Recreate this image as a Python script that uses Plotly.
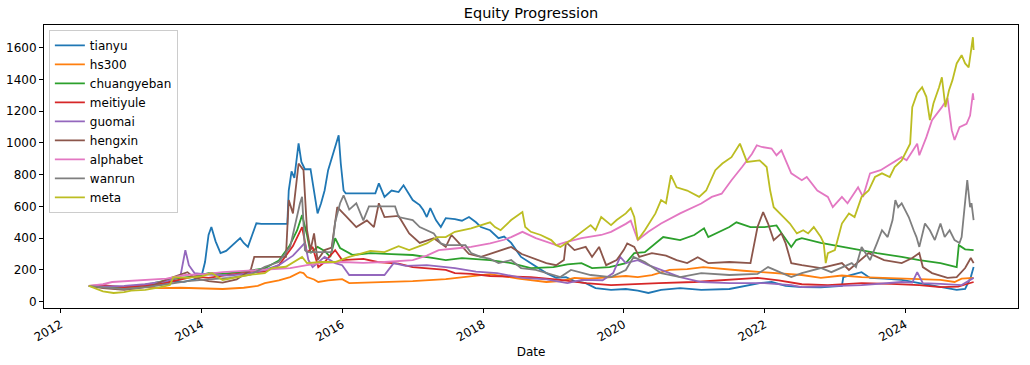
import pandas as pd
import plotly.graph_objects as go

# (decimal year, value) pairs
tianyu = [(2012.40,100),(2012.5,95),(2012.6,105),(2012.75,90),(2012.9,80),(2013.0,85),(2013.15,95),(2013.3,100),(2013.45,115),(2013.6,130),(2013.75,125),(2013.9,140),(2014.0,160),(2014.05,250),(2014.1,420),(2014.14,470),(2014.2,380),(2014.27,306),(2014.35,320),(2014.45,360),(2014.55,400),(2014.6,370),(2014.66,345),(2014.72,420),(2014.78,494),(2014.85,490),(2015.22,490),(2015.24,700),(2015.28,820),(2015.32,780),(2015.38,997),(2015.42,880),(2015.47,834),(2015.55,834),(2015.6,700),(2015.65,556),(2015.7,620),(2015.75,700),(2015.8,828),(2015.87,933),(2015.95,1048),(2015.98,870),(2016.02,700),(2016.05,682),(2016.47,682),(2016.52,745),(2016.6,660),(2016.7,700),(2016.8,690),(2016.87,733),(2016.95,680),(2017.0,640),(2017.1,608),(2017.15,577),(2017.2,533),(2017.25,589),(2017.33,514),(2017.4,470),(2017.47,526),(2017.6,520),(2017.7,510),(2017.8,533),(2017.9,500),(2017.97,470),(2018.1,450),(2018.22,400),(2018.3,410),(2018.4,370),(2018.54,282),(2018.68,243),(2018.8,210),(2018.9,180),(2019.04,150),(2019.18,155),(2019.3,130),(2019.46,117),(2019.6,86),(2019.82,74),(2020.03,80),(2020.2,70),(2020.35,55),(2020.53,74),(2020.8,86),(2021.1,74),(2021.5,80),(2021.93,117),(2022.1,124),(2022.3,100),(2022.53,92),(2022.8,90),(2023.1,100),(2023.12,155),(2023.38,186),(2023.5,150),(2023.7,145),(2023.95,137),(2024.2,117),(2024.52,92),(2024.73,74),(2024.85,80),(2024.93,155),(2024.97,218)]

hs300 = [(2012.40,100),(2012.6,95),(2012.9,85),(2013.1,95),(2013.4,85),(2013.7,88),(2014.0,82),(2014.3,80),(2014.6,88),(2014.8,100),(2014.9,117),(2015.1,135),(2015.26,155),(2015.4,186),(2015.45,180),(2015.5,155),(2015.6,140),(2015.66,124),(2015.8,135),(2016.0,142),(2016.1,117),(2016.3,120),(2016.6,125),(2017.0,130),(2017.47,142),(2017.83,162),(2018.1,174),(2018.3,160),(2018.5,145),(2018.9,124),(2019.1,130),(2019.3,150),(2019.5,145),(2019.68,150),(2020.03,162),(2020.2,155),(2020.4,168),(2020.65,200),(2020.9,205),(2021.13,218),(2021.3,210),(2021.5,200),(2021.7,195),(2021.96,186),(2022.2,180),(2022.4,175),(2022.53,168),(2022.8,150),(2023.1,165),(2023.38,155),(2023.7,150),(2023.95,145),(2024.1,140),(2024.5,137),(2024.7,124),(2024.8,145),(2024.97,150)]

chuangyeban = [(2012.40,100),(2012.6,95),(2012.9,90),(2013.1,100),(2013.3,115),(2013.5,135),(2013.7,150),(2013.9,160),(2014.1,180),(2014.3,175),(2014.6,190),(2014.9,210),(2015.1,260),(2015.25,350),(2015.36,450),(2015.43,545),(2015.5,420),(2015.55,306),(2015.65,345),(2015.75,320),(2015.83,282),(2015.9,400),(2015.97,338),(2016.15,294),(2016.4,306),(2016.7,300),(2017.0,294),(2017.3,275),(2017.47,262),(2017.7,275),(2018.1,262),(2018.4,243),(2018.68,212),(2019.0,218),(2019.2,235),(2019.4,243),(2019.55,212),(2019.8,218),(2020.03,243),(2020.15,306),(2020.3,312),(2020.56,407),(2020.8,388),(2021.0,420),(2021.14,462),(2021.2,407),(2021.39,450),(2021.5,470),(2021.6,500),(2021.8,470),(2022.0,470),(2022.17,480),(2022.24,432),(2022.38,345),(2022.45,388),(2022.53,400),(2022.8,370),(2023.1,345),(2023.38,325),(2023.6,306),(2023.95,282),(2024.2,262),(2024.5,243),(2024.73,218),(2024.76,356),(2024.85,330),(2024.97,325)]

meitiyule = [(2012.40,100),(2012.6,105),(2012.9,90),(2013.1,100),(2013.4,110),(2013.7,140),(2013.9,160),(2014.1,150),(2014.4,170),(2014.7,185),(2014.9,190),(2015.1,230),(2015.3,350),(2015.43,470),(2015.5,306),(2015.58,345),(2015.66,218),(2015.75,250),(2015.9,325),(2016.0,262),(2016.3,270),(2016.5,250),(2016.8,240),(2017.0,218),(2017.47,200),(2017.6,180),(2017.83,175),(2018.1,162),(2018.68,155),(2019.1,137),(2019.46,117),(2019.82,105),(2020.03,110),(2020.5,117),(2021.0,124),(2021.4,137),(2021.9,150),(2022.2,135),(2022.53,110),(2022.9,105),(2023.38,117),(2023.8,112),(2024.2,105),(2024.5,92),(2024.75,95),(2024.97,124)]

guomai = [(2012.40,100),(2012.6,95),(2012.9,100),(2013.2,110),(2013.5,130),(2013.7,160),(2013.77,325),(2013.82,230),(2013.9,180),(2014.1,170),(2014.4,165),(2014.7,180),(2014.9,200),(2015.1,230),(2015.3,290),(2015.47,370),(2015.52,262),(2015.58,218),(2015.75,282),(2015.9,243),(2016.0,230),(2016.1,168),(2016.6,168),(2016.73,243),(2016.9,225),(2017.2,230),(2017.47,218),(2017.6,212),(2017.9,190),(2018.2,180),(2018.56,150),(2018.9,140),(2019.2,117),(2019.4,137),(2019.7,135),(2019.85,180),(2019.95,282),(2020.03,243),(2020.2,262),(2020.35,230),(2020.53,200),(2020.8,155),(2021.1,124),(2021.5,117),(2022.0,117),(2022.38,105),(2022.53,92),(2023.0,100),(2023.38,105),(2023.95,124),(2024.1,120),(2024.17,186),(2024.25,117),(2024.5,112),(2024.8,105),(2024.97,150)]

hengxin = [(2012.40,100),(2012.6,85),(2012.9,75),(2013.1,85),(2013.3,100),(2013.5,140),(2013.7,170),(2013.8,186),(2013.9,150),(2014.1,130),(2014.3,120),(2014.5,140),(2014.7,200),(2014.75,282),(2015.2,282),(2015.24,640),(2015.3,556),(2015.38,870),(2015.45,828),(2015.5,450),(2015.55,325),(2015.6,430),(2015.65,262),(2015.75,325),(2015.85,340),(2015.93,595),(2016.05,540),(2016.2,470),(2016.35,512),(2016.45,470),(2016.52,620),(2016.6,533),(2016.8,540),(2016.95,430),(2017.1,370),(2017.3,400),(2017.47,345),(2017.55,420),(2017.62,388),(2017.8,300),(2017.97,282),(2018.1,300),(2018.25,325),(2018.4,345),(2018.55,300),(2018.9,243),(2019.04,230),(2019.15,262),(2019.18,375),(2019.3,325),(2019.46,345),(2019.55,282),(2019.65,345),(2019.75,230),(2019.9,262),(2020.0,325),(2020.05,367),(2020.15,345),(2020.22,282),(2020.4,306),(2020.6,290),(2020.75,262),(2020.9,243),(2021.05,280),(2021.2,243),(2021.5,250),(2021.8,243),(2021.9,470),(2021.98,564),(2022.05,492),(2022.13,388),(2022.24,430),(2022.3,367),(2022.38,243),(2022.53,230),(2022.8,212),(2023.1,243),(2023.2,200),(2023.48,306),(2023.7,262),(2023.95,243),(2024.1,275),(2024.2,306),(2024.25,218),(2024.38,180),(2024.6,150),(2024.73,155),(2024.85,212),(2024.93,275),(2024.97,243)]

alphabet = [(2012.40,100),(2012.6,110),(2012.73,124),(2013.0,130),(2013.2,135),(2013.5,145),(2013.77,168),(2014.05,174),(2014.3,186),(2014.6,195),(2014.9,200),(2015.26,212),(2015.5,230),(2015.7,243),(2016.0,250),(2016.3,245),(2016.6,250),(2017.0,262),(2017.2,290),(2017.37,325),(2017.6,335),(2017.83,345),(2018.1,367),(2018.3,390),(2018.4,407),(2018.5,430),(2018.56,440),(2018.75,400),(2019.04,356),(2019.18,375),(2019.4,400),(2019.68,420),(2019.82,440),(2020.03,490),(2020.1,510),(2020.2,388),(2020.35,440),(2020.53,492),(2020.8,556),(2021.1,618),(2021.25,660),(2021.39,680),(2021.53,765),(2021.68,848),(2021.82,930),(2021.89,985),(2021.96,974),(2022.1,964),(2022.17,922),(2022.24,953),(2022.38,808),(2022.53,765),(2022.6,785),(2022.75,700),(2022.9,660),(2022.97,595),(2023.1,660),(2023.18,620),(2023.33,720),(2023.4,660),(2023.5,808),(2023.65,828),(2023.8,870),(2023.95,910),(2024.02,890),(2024.17,995),(2024.2,922),(2024.3,1036),(2024.38,1143),(2024.52,1225),(2024.6,1281),(2024.63,1186),(2024.66,1080),(2024.7,1018),(2024.77,1099),(2024.87,1120),(2024.92,1172),(2024.96,1312),(2024.97,1270)]

wanrun = [(2012.40,100),(2012.6,90),(2012.9,80),(2013.2,90),(2013.5,110),(2013.8,130),(2014.1,140),(2014.4,150),(2014.7,170),(2014.9,220),(2015.1,250),(2015.26,345),(2015.4,620),(2015.43,660),(2015.47,325),(2015.5,312),(2015.85,312),(2015.9,500),(2015.97,620),(2016.02,670),(2016.1,580),(2016.2,620),(2016.3,512),(2016.38,600),(2016.75,600),(2016.8,533),(2017.0,514),(2017.1,470),(2017.3,430),(2017.4,367),(2017.47,356),(2017.75,356),(2017.83,306),(2017.97,282),(2018.1,270),(2018.22,243),(2018.4,262),(2018.54,212),(2018.75,200),(2018.9,180),(2019.1,155),(2019.25,200),(2019.53,168),(2019.82,155),(2020.03,200),(2020.14,282),(2020.3,250),(2020.53,180),(2020.8,155),(2021.1,180),(2021.5,168),(2021.9,175),(2022.05,218),(2022.38,155),(2022.53,180),(2022.8,212),(2022.95,186),(2023.24,243),(2023.3,218),(2023.38,345),(2023.5,262),(2023.6,370),(2023.67,450),(2023.75,407),(2023.82,514),(2023.86,640),(2023.9,595),(2023.95,620),(2024.05,533),(2024.12,450),(2024.16,407),(2024.2,345),(2024.25,430),(2024.28,492),(2024.35,450),(2024.42,388),(2024.5,492),(2024.56,407),(2024.63,450),(2024.7,388),(2024.77,370),(2024.8,407),(2024.88,765),(2024.92,595),(2024.94,620),(2024.97,514)]

meta = [(2012.40,100),(2012.5,85),(2012.6,65),(2012.75,55),(2012.9,60),(2013.0,70),(2013.2,75),(2013.4,90),(2013.55,105),(2013.6,155),(2013.8,150),(2014.0,160),(2014.15,180),(2014.3,137),(2014.5,155),(2014.7,170),(2014.9,180),(2015.0,212),(2015.2,220),(2015.43,282),(2015.5,243),(2015.7,250),(2015.9,250),(2016.1,282),(2016.4,320),(2016.6,312),(2016.8,350),(2016.95,325),(2017.2,367),(2017.35,407),(2017.47,407),(2017.6,440),(2017.83,462),(2018.1,500),(2018.17,470),(2018.25,450),(2018.4,514),(2018.56,564),(2018.6,470),(2018.68,440),(2018.82,420),(2018.97,388),(2019.04,356),(2019.1,345),(2019.25,388),(2019.4,440),(2019.53,482),(2019.6,450),(2019.68,533),(2019.82,482),(2019.9,514),(2020.03,556),(2020.1,589),(2020.15,533),(2020.2,388),(2020.3,450),(2020.45,556),(2020.53,640),(2020.6,620),(2020.67,796),(2020.75,720),(2020.9,700),(2021.07,660),(2021.17,700),(2021.3,828),(2021.4,870),(2021.53,910),(2021.65,995),(2021.75,880),(2021.93,890),(2022.03,848),(2022.08,700),(2022.13,595),(2022.27,533),(2022.36,492),(2022.46,430),(2022.55,450),(2022.62,430),(2022.7,470),(2022.8,407),(2022.84,370),(2022.87,243),(2022.9,306),(2023.0,325),(2023.1,492),(2023.2,556),(2023.28,533),(2023.38,660),(2023.48,700),(2023.57,785),(2023.67,808),(2023.78,785),(2023.85,848),(2023.95,890),(2024.02,953),(2024.07,995),(2024.1,1225),(2024.17,1312),(2024.24,1350),(2024.3,1290),(2024.35,1143),(2024.4,1248),(2024.48,1350),(2024.52,1413),(2024.57,1225),(2024.62,1330),(2024.67,1395),(2024.73,1500),(2024.8,1552),(2024.85,1500),(2024.9,1475),(2024.94,1627),(2024.96,1665),(2024.97,1585)]

series_names = ["tianyu", "hs300", "chuangyeban", "meitiyule", "guomai",
                "hengxin", "alphabet", "wanrun", "meta"]
series_data = [tianyu, hs300, chuangyeban, meitiyule, guomai,
               hengxin, alphabet, wanrun, meta]
colors = ["#1f77b4", "#ff7f0e", "#2ca02c", "#d62728", "#9467bd",
          "#8c564b", "#e377c2", "#7f7f7f", "#bcbd22"]
tick_years = [2012, 2014, 2016, 2018, 2020, 2022, 2024]


def dec2dt(t):
    y = int(t)
    a = pd.Timestamp(year=y, month=1, day=1)
    b = pd.Timestamp(year=y + 1, month=1, day=1)
    return a + (b - a) * (t - y)


fig = go.Figure()
for name, data, col in zip(series_names, series_data, colors):
    fig.add_trace(go.Scatter(
        x=[dec2dt(t) for t, _ in data],
        y=[v for _, v in data],
        mode="lines", name=name,
        line=dict(color=col, width=1.8),
    ))

font = "DejaVu Sans, Arial, sans-serif"
fig.update_layout(
    width=1030, height=365,
    margin=dict(l=44, r=12, t=25, b=57, autoexpand=False),
    paper_bgcolor="white", plot_bgcolor="white",
    font=dict(family=font, size=12, color="#000000"),
    title=dict(text="Equity Progression", x=0.5, xref="paper",
               y=1 - 13 / 365, yref="container", yanchor="middle",
               xanchor="center", font=dict(size=14.5, family=font)),
    showlegend=True,
    legend=dict(x=0.005, y=0.983, xanchor="left", yanchor="top",
                bordercolor="#cccccc", borderwidth=1,
                bgcolor="rgba(255,255,255,0.8)",
                font=dict(size=12, family=font), itemwidth=30,
                tracegroupgap=0),
)
fig.update_xaxes(
    type="date", automargin=False,
    range=[dec2dt(2011.763), dec2dt(2025.601)],
    tickvals=[pd.Timestamp(year=y, month=1, day=1) for y in tick_years],
    ticktext=[str(y) for y in tick_years],
    tickangle=-30,
    ticks="outside", ticklen=4, tickwidth=0.8, tickcolor="#000",
    showline=True, linecolor="#000", linewidth=1, mirror=True,
    showgrid=False, zeroline=False,
    title=dict(text="Date", standoff=4, font=dict(size=12)),
)
fig.update_yaxes(
    automargin=False,
    range=[-39.6, 1742], tick0=0, dtick=200,
    ticks="outside", ticklen=4, tickwidth=0.8, tickcolor="#000",
    showline=True, linecolor="#000", linewidth=1, mirror=True,
    showgrid=False, zeroline=False,
)

fig.write_html(
    "out.html",
    config={"displayModeBar": False},
    post_script="document.body.style.margin='0';document.body.style.padding='0';",
)
